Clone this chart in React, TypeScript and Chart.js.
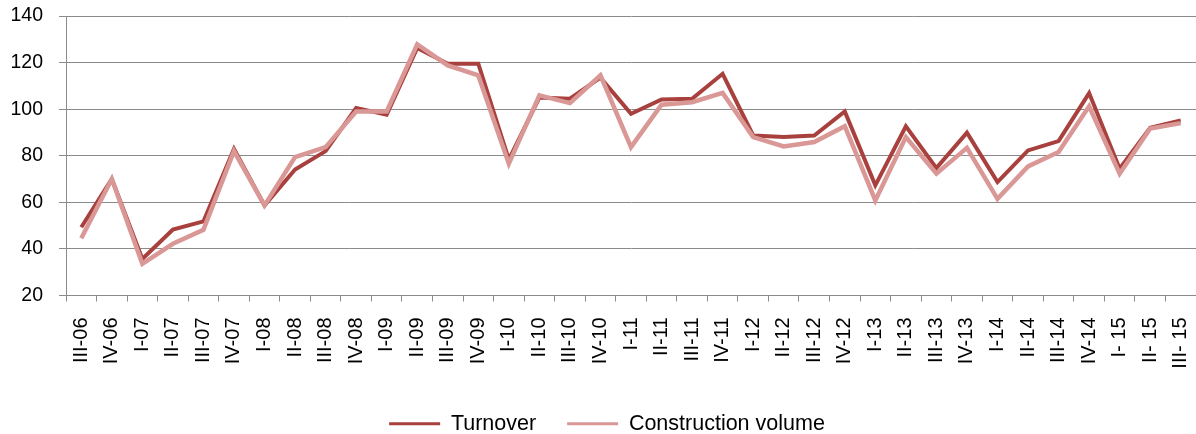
import React, { useEffect, useRef } from "react";
import { Chart, registerables } from "chart.js";

Chart.register(...registerables);

const categories = [
  "III-06", "IV-06", "I-07", "II-07", "III-07", "IV-07", "I-08", "II-08", "III-08", "IV-08",
  "I-09", "II-09", "III-09", "IV-09", "I-10", "II-10", "III-10", "IV-10", "I-11", "II-11",
  "III-11", "IV-11", "I-12", "II-12", "III-12", "IV-12", "I-13", "II-13", "III-13", "IV-13",
  "I-14", "II-14", "III-14", "IV-14", "I- 15", "II- 15", "III- 15",
];

const turnover = [
  49.3, 70, 35.7, 48.3, 51.8, 83, 58.7, 74.1, 82, 100.5,
  97.6, 126.3, 119.5, 119.5, 78.3, 105, 104.5, 113.5, 98, 104.2,
  104.5, 115.2, 88.7, 88, 88.7, 99, 67.3, 92.6, 74.7, 89.9,
  68.7, 82.3, 86.3, 106.9, 74.4, 92, 95.2,
];

const constructionVolume = [
  44.6, 70, 33.6, 42.2, 48.2, 82, 58.7, 79.4, 83.7, 99,
  99, 127.8, 118.8, 114.5, 76.6, 105.9, 102.6, 114.5, 83.7, 101.9,
  103, 107, 88, 84, 85.9, 92.7, 60.8, 88, 72.3, 83.4,
  61.5, 75.4, 81.6, 101.2, 72.3, 91.7, 94,
];

const yMin = 20;
const yMax = 140;
const yStep = 20;

const FONT = "'Liberation Sans', Arial, sans-serif";
const GRID = "#8a8a8a";
const DARK = "#a8413e";
const LIGHT = "#d99795";

const legendShift = {
  id: "legendShift",
  afterLayout(chart: any) {
    if (chart.legend) {
      chart.legend.left += 9;
      chart.legend.right += 9;
    }
  },
};

export default function App() {
  const ref = useRef<HTMLCanvasElement | null>(null);

  useEffect(() => {
    if (!ref.current) return;
    const chart = new Chart(ref.current, {
      type: "line",
      plugins: [legendShift],
      data: {
        labels: categories,
        datasets: [
          {
            label: "Turnover",
            data: turnover,
            borderColor: DARK,
            backgroundColor: DARK,
            borderWidth: 4,
            pointRadius: 0,
            tension: 0,
            order: 1,
          },
          {
            label: "Construction volume",
            data: constructionVolume,
            borderColor: LIGHT,
            backgroundColor: LIGHT,
            borderWidth: 4.5,
            pointRadius: 0,
            tension: 0,
            order: 0,
          },
        ],
      },
      options: {
        responsive: false,
        animation: false,
        layout: { padding: { top: 16, left: 0, right: 0, bottom: 0 } },
        plugins: {
          tooltip: { enabled: false },
          legend: {
            position: "bottom",
            maxHeight: 52,
            labels: {
              boxWidth: 51,
              boxHeight: 3,
              padding: 31,
              color: "#000",
              font: { family: FONT, size: 21.5 },
              sort: (a: any, b: any) => a.datasetIndex - b.datasetIndex,
              generateLabels: (c: any) =>
                (Chart.defaults.plugins.legend.labels as any)
                  .generateLabels(c)
                  .map((l: any) => ({ ...l, lineWidth: 0, fillStyle: l.strokeStyle })),
            },
          },
        },
        scales: {
          x: {
            offset: true,
            grid: {
              offset: true,
              drawOnChartArea: false,
              drawTicks: true,
              tickLength: 6,
              color: GRID,
            },
            border: { color: GRID },
            ticks: {
              autoSkip: false,
              minRotation: 90,
              maxRotation: 90,
              padding: 16,
              color: "#000",
              font: { family: FONT, size: 20 },
            },
            afterFit: (s: any) => {
              s.height = 86.5;
              s.paddingLeft = 0;
              s.paddingRight = 0;
            },
          },
          y: {
            min: yMin,
            max: yMax,
            grid: { color: GRID, tickLength: 7 },
            border: { color: GRID },
            ticks: {
              stepSize: yStep,
              padding: 16,
              color: "#000",
              font: { family: FONT, size: 19.5 },
            },
            afterFit: (s: any) => {
              s.width = 66;
              s.paddingTop = 0;
              s.paddingBottom = 0;
            },
          },
        },
      },
    });
    return () => chart.destroy();
  }, []);

  return (
    <div style={{ position: "absolute", left: 0, top: 0, width: 1196, height: 434, background: "#fff" }}>
      <canvas ref={ref} width={1196} height={434} style={{ display: "block" }} />
    </div>
  );
}
